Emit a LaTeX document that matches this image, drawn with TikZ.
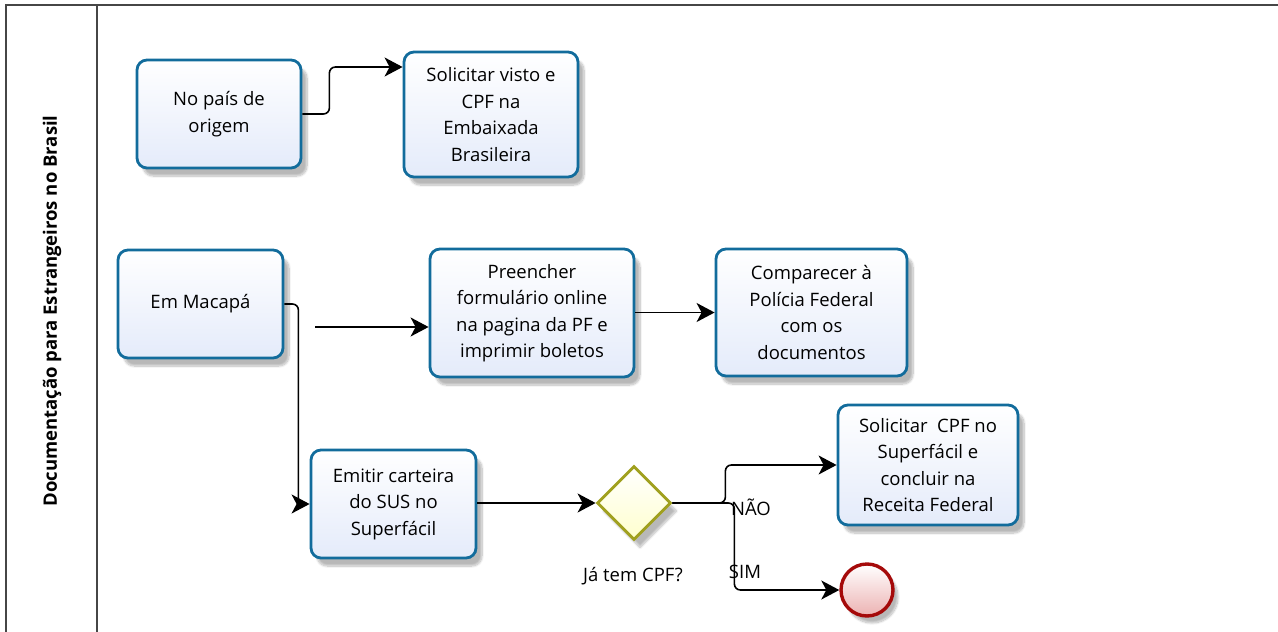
\documentclass[tikz,border=0pt]{standalone}
\usepackage{fontspec}
\setmainfont{Open Sans}
\usepackage{tikz}
\usetikzlibrary{shapes.geometric,arrows.meta,shadows.blur,calc}

\definecolor{taskline}{RGB}{18,108,156}
\definecolor{taskfill}{RGB}{228,235,250}
\definecolor{gateline}{RGB}{160,160,30}
\definecolor{gatefill}{RGB}{255,255,205}
\definecolor{endline}{RGB}{165,10,10}
\definecolor{endfill}{RGB}{236,178,178}
\definecolor{poolline}{RGB}{70,70,70}

\begin{document}
\begin{tikzpicture}[x=1pt,y=-1pt,
    font=\fontsize{18.5}{26.5}\selectfont,
    task/.style={draw=taskline,line width=2.8pt,rounded corners=10pt,
        top color=white,bottom color=taskfill,align=center,inner sep=0pt,
        blur shadow={shadow xshift=6pt,shadow yshift=-8pt,shadow opacity=28,shadow blur steps=10}},
    gate/.style={diamond,aspect=1,draw=gateline,line width=2.8pt,
        top color=white,bottom color=gatefill,minimum width=74pt,minimum height=74pt,inner sep=0pt,
        blur shadow={shadow xshift=6pt,shadow yshift=-8pt,shadow opacity=28,shadow blur steps=10}},
    fim/.style={circle,draw=endline,line width=3.4pt,top color=white,bottom color=endfill,
        minimum size=52pt,inner sep=0pt,
        blur shadow={shadow xshift=5pt,shadow yshift=-7pt,shadow opacity=28,shadow blur steps=10}},
    flow/.style={draw=black,line width=1.6pt,rounded corners=6pt,
        -{Stealth[length=18pt,width=19pt,inset=5pt]}},
    rotulo/.style={inner sep=0pt}]
    \useasboundingbox (0,0) rectangle (1278,632);

    % pool and lane
    \draw[poolline,line width=1.8pt] (1278,5) -- (6,5) -- (6,632);
    \draw[poolline,line width=1.8pt] (97,5) -- (97,632);
    \node[rotate=90,font=\fontsize{18.5}{22}\selectfont\bfseries] (lane) at (52,311) {Documentação para Estrangeiros no Brasil};

    % tasks
    \node[task,minimum width=164pt,minimum height=108pt] (origem) at (219,114) {No país de\\origem};
    \node[task,minimum width=174pt,minimum height=125pt] (visto) at (491,114.5) {Solicitar visto e\\CPF na\\Embaixada\\Brasileira};
    \node[task,minimum width=165pt,minimum height=108pt] (macapa) at (200.5,304) {Em Macapá};
    \node[task,minimum width=204pt,minimum height=128pt] (form) at (532,313) {Preencher\\formulário online\\na pagina da PF e\\imprimir boletos};
    \node[task,minimum width=191pt,minimum height=127pt] (pf) at (811.5,312.5) {Comparecer à\\Polícia Federal\\com os\\documentos};
    \node[task,minimum width=165pt,minimum height=108pt] (sus) at (393.5,504) {Emitir carteira\\do SUS no\\Superfácil};
    \node[task,minimum width=180pt,minimum height=120pt] (receita) at (928,465) {Solicitar~ CPF no\\Superfácil e\\concluir na\\Receita Federal};

    % gateway and end
    \node[gate] (cpf) at (634,503) {};
    \node[rotulo] (cpflabel) at (633,576) {Já tem CPF?};
    \node[fim] (end) at (867,590) {};

    % connectors
    \coordinate (solto) at (315,327);
    \draw[flow] (origem.east) -- ++(27,0) |- ([yshift=47.5pt]visto.west);
    \draw[flow] (macapa.east) -- ++(14,0) |- (sus.west);
    \draw[flow] (solto) -- (solto -| form.west);
    \draw[flow] (form.east |- pf.west) -- (pf.west);
    \draw[flow] (sus.east |- cpf.west) -- (cpf.west);
    \draw[flow] (cpf.east) -- ++(53,0) |- (receita.west);
    \draw[flow] (cpf.east) -- ++(62,0) |- (end.west);
    \node[rotulo] (nao) at (751,507) {NÃO};
    \node[rotulo] (sim) at (745,572) {SIM};
\end{tikzpicture}
\end{document}
